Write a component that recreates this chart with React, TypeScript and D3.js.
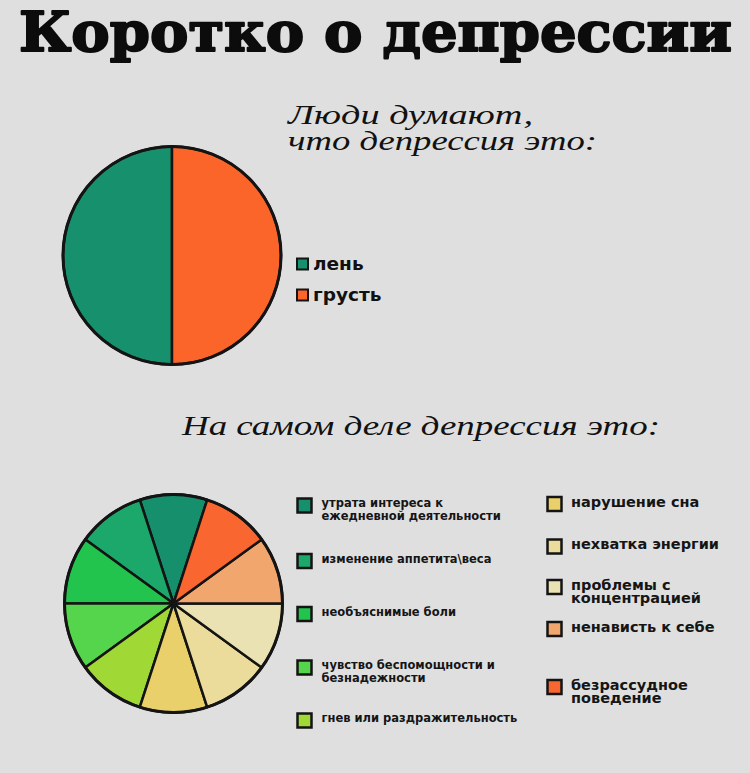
import * as d3 from "d3";
import { useEffect, useRef } from "react";

// -----------------------------
// DATA
// -----------------------------
const title = "Коротко о депрессии";
const mythTitle = ["Люди думают,", "что депрессия это:"];
const factTitle = "На самом деле депрессия это:";

const mythLabels = ["лень", "грусть"];
const mythValues = [1, 1];
const mythColors = ["#17906e", "#fb6529"];

const factLabels = [
  "утрата интереса к\nежедневной деятельности",
  "изменение аппетита\\веса",
  "необъяснимые боли",
  "чувство беспомощности и\nбезнадежности",
  "гнев или раздражительность",
  "нарушение сна",
  "нехватка энергии",
  "проблемы с\nконцентрацией",
  "ненависть к себе",
  "безрассудное\nповедение",
];
const factValues = [1, 1, 1, 1, 1, 1, 1, 1, 1, 1];
const factColors = [
  "#16906c",
  "#1ca86a",
  "#22c44e",
  "#55d54c",
  "#a0d836",
  "#ead06a",
  "#ecdc9c",
  "#ebe2b4",
  "#f0a66c",
  "#fa6630",
];

export default function App() {
  const containerRef = useRef<HTMLDivElement>(null);

  useEffect(() => {
    if (!containerRef.current) return;
    const container = containerRef.current;
    container.innerHTML = "";
    document.body.style.margin = "0";

    const width = 750;
    const height = 773;
    const ink = "#141414";

    const svg = d3
      .select(container)
      .append("svg")
      .attr("width", width)
      .attr("height", height)
      .style("display", "block");

    svg.append("rect").attr("width", width).attr("height", height).attr("fill", "#dfdfdf");

    // title (stroked to get a heavier slab look)
    svg
      .append("text")
      .attr("x", 19)
      .attr("y", 51)
      .attr("textLength", 713)
      .attr("lengthAdjust", "spacingAndGlyphs")
      .style("font-family", "'DejaVu Serif', serif")
      .style("font-weight", "900")
      .style("font-size", "54px")
      .style("fill", "#0c0c0c")
      .style("stroke", "#0c0c0c")
      .style("stroke-width", "2px")
      .style("stroke-linejoin", "round")
      .text(title);

    // handwritten-ish subtitles
    const hand = (x: number, y: number, len: number, s: string, size: number) =>
      svg
        .append("text")
        .attr("x", x)
        .attr("y", y)
        .attr("textLength", len)
        .attr("lengthAdjust", "spacingAndGlyphs")
        .style("font-family", "'Liberation Serif', serif")
        .style("font-style", "italic")
        .style("font-size", `${size}px`)
        .style("fill", "#111")
        .text(s);

    hand(288, 124, 245, mythTitle[0], 28);
    hand(288, 150, 309, mythTitle[1], 28);
    hand(182, 435, 478, factTitle, 28);

    // -----------------------------
    // PIES
    // -----------------------------
    const r = 109;
    const drawPie = (cx: number, cy: number, values: number[], colors: string[], start: number) => {
      const pie = d3
        .pie<number>()
        .sort(null)
        .startAngle(start)
        .endAngle(start - 2 * Math.PI);
      const arc = d3.arc<d3.PieArcDatum<number>>().innerRadius(0).outerRadius(r);
      const g = svg.append("g").attr("transform", `translate(${cx},${cy})`);
      g.selectAll("path")
        .data(pie(values))
        .enter()
        .append("path")
        .attr("d", arc)
        .attr("fill", (_, i) => colors[i])
        .attr("stroke", ink)
        .attr("stroke-width", 2.5)
        .attr("stroke-linejoin", "round");
      g.append("circle").attr("r", r).attr("fill", "none").attr("stroke", ink).attr("stroke-width", 3);
    };

    drawPie(172, 255.5, mythValues, mythColors, 0);
    drawPie(173.5, 603.5, factValues, factColors, Math.PI / 10);

    // -----------------------------
    // LEGENDS
    // -----------------------------
    const mythLegend = svg.append("g");
    mythLabels.forEach((label, i) => {
      const y = 264 + i * 31;
      mythLegend
        .append("rect")
        .attr("x", 297)
        .attr("y", y - 5.5)
        .attr("width", 11)
        .attr("height", 11)
        .attr("fill", mythColors[i])
        .attr("stroke", ink)
        .attr("stroke-width", 2);
      mythLegend
        .append("text")
        .attr("x", 313)
        .attr("y", y + 5.5)
        .style("font-family", "'DejaVu Sans', sans-serif")
        .style("font-weight", "bold")
        .style("font-size", "18.5px")
        .style("fill", "#111")
        .text(label);
    });

    const leftRows = [505.5, 561, 614, 667.5, 720.5];
    const rightRows = [504, 546.5, 587, 629, 687];
    const factLegend = svg.append("g");
    factLabels.forEach((label, i) => {
      const left = i < 5;
      const cy = left ? leftRows[i] : rightRows[i - 5];
      const sx = left ? 297.5 : 547.5;
      const tx = left ? 321.5 : 571;
      const size = left ? 11.5 : 14.5;
      const lh = left ? 13 : 13.5;
      factLegend
        .append("rect")
        .attr("x", sx)
        .attr("y", cy - 7)
        .attr("width", 14)
        .attr("height", 14)
        .attr("fill", factColors[i])
        .attr("stroke", ink)
        .attr("stroke-width", 2.5);
      const t = factLegend
        .append("text")
        .attr("x", tx)
        .attr("y", cy + (left ? 1.5 : 2.5))
        .style("font-family", "'DejaVu Sans', sans-serif")
        .style("font-weight", "bold")
        .style("font-size", `${size}px`)
        .style("fill", "#151515");
      label.split("\n").forEach((line, j) => {
        t.append("tspan").attr("x", tx).attr("dy", j === 0 ? 0 : lh).text(line);
      });
    });
  }, []);

  return <div ref={containerRef} />;
}
